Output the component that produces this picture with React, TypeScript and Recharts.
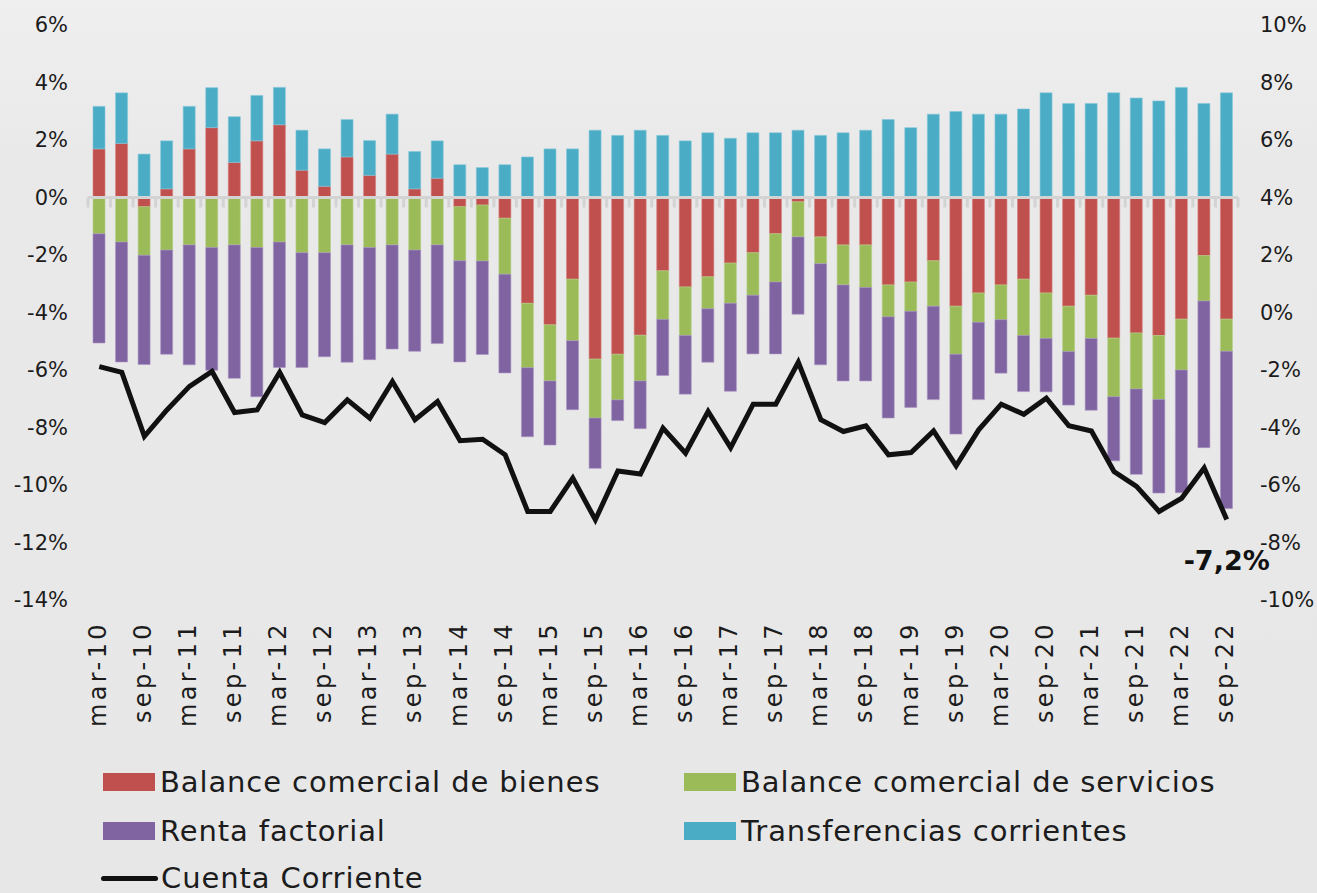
import { ComposedChart, Bar, Line, XAxis, YAxis, ReferenceLine, Legend, LabelList } from 'recharts';

const quarters = [
  'mar-10', 'jun-10', 'sep-10', 'dic-10',
  'mar-11', 'jun-11', 'sep-11', 'dic-11',
  'mar-12', 'jun-12', 'sep-12', 'dic-12',
  'mar-13', 'jun-13', 'sep-13', 'dic-13',
  'mar-14', 'jun-14', 'sep-14', 'dic-14',
  'mar-15', 'jun-15', 'sep-15', 'dic-15',
  'mar-16', 'jun-16', 'sep-16', 'dic-16',
  'mar-17', 'jun-17', 'sep-17', 'dic-17',
  'mar-18', 'jun-18', 'sep-18', 'dic-18',
  'mar-19', 'jun-19', 'sep-19', 'dic-19',
  'mar-20', 'jun-20', 'sep-20', 'dic-20',
  'mar-21', 'jun-21', 'sep-21', 'dic-21',
  'mar-22', 'jun-22', 'sep-22',
];

// % del PIB, eje izquierdo
const bienes = [
  1.69, 1.88, -0.32, 0.30, 1.69, 2.43, 1.22, 1.97, 2.53, 0.95, 0.39, 1.41, 0.77, 1.51, 0.30, 0.67,
  -0.32, -0.26, -0.72, -3.68, -4.43, -2.84, -5.62, -5.45, -4.79, -2.55, -3.11, -2.76, -2.28, -1.92,
  -1.26, -0.15, -1.37, -1.65, -1.65, -3.04, -2.94, -2.20, -3.78, -3.32, -3.04, -2.84, -3.32, -3.78,
  -3.40, -4.89, -4.71, -4.80, -4.23, -2.02, -4.23,
];
const servicios = [
  -1.26, -1.55, -1.69, -1.83, -1.65, -1.74, -1.65, -1.74, -1.55, -1.92, -1.92, -1.65, -1.74, -1.65,
  -1.83, -1.65, -1.88, -1.95, -1.95, -2.24, -1.95, -2.14, -2.05, -1.59, -1.59, -1.69, -1.69, -1.11,
  -1.40, -1.48, -1.68, -1.22, -0.93, -1.39, -1.48, -1.11, -1.02, -1.58, -1.67, -1.02, -1.21, -1.96,
  -1.58, -1.58, -1.50, -2.04, -1.95, -2.23, -1.77, -1.58, -1.12,
];
const renta = [
  -3.80, -4.17, -3.80, -3.62, -4.17, -4.27, -4.64, -5.19, -4.36, -3.99, -3.62, -4.08, -3.90, -3.62,
  -3.52, -3.43, -3.52, -3.25, -3.43, -2.40, -2.23, -2.40, -1.75, -0.72, -1.66, -1.95, -2.04, -1.86,
  -3.06, -2.04, -2.50, -2.69, -3.52, -3.34, -3.25, -3.52, -3.34, -3.25, -2.78, -2.69, -1.86, -1.95,
  -1.86, -1.86, -2.50, -2.23, -2.97, -3.25, -4.27, -5.10, -5.47,
];
const transferencias = [
  1.48, 1.76, 1.51, 1.67, 1.48, 1.39, 1.59, 1.58, 1.30, 1.39, 1.30, 1.30, 1.21, 1.39, 1.30, 1.30,
  1.14, 1.04, 1.14, 1.41, 1.69, 1.69, 2.34, 2.16, 2.34, 2.16, 1.97, 2.25, 2.06, 2.25, 2.25, 2.34,
  2.16, 2.25, 2.34, 2.71, 2.43, 2.90, 2.99, 2.90, 2.90, 3.08, 3.64, 3.27, 3.27, 3.64, 3.46, 3.36,
  3.83, 3.27, 3.64,
];
// eje derecho
const cuenta = [
  -1.88, -2.08, -4.31, -3.39, -2.57, -2.05, -3.48, -3.39, -2.08, -3.56, -3.83, -3.04, -3.68, -2.40,
  -3.73, -3.10, -4.46, -4.41, -4.95, -6.92, -6.92, -5.76, -7.21, -5.51, -5.62, -4.02, -4.89, -3.44,
  -4.70, -3.19, -3.19, -1.73, -3.73, -4.14, -3.94, -4.95, -4.87, -4.12, -5.33, -4.08, -3.19, -3.54,
  -2.98, -3.94, -4.12, -5.53, -6.05, -6.92, -6.46, -5.41, -7.2,
];

const leftTicks = [6, 4, 2, 0, -2, -4, -6, -8, -10, -12, -14];
const rightTicks = [10, 8, 6, 4, 2, 0, -2, -4, -6, -8, -10];

const RED = '#c0504d';
const GREEN = '#9bbb59';
const PURPLE = '#8064a2';
const BLUE = '#4bacc6';
const FONT = '"DejaVu Sans", sans-serif';
const TEXT = '#1c1c1c';

const chartData = quarters.map((q, i) => ({
  q,
  bienes: bienes[i],
  servicios: servicios[i],
  renta: renta[i],
  transferencias: transferencias[i],
  cuenta: cuenta[i],
}));

const legendItems = [
  { name: 'Balance comercial de bienes', color: RED, kind: 'rect' },
  { name: 'Balance comercial de servicios', color: GREEN, kind: 'rect' },
  { name: 'Renta factorial', color: PURPLE, kind: 'rect' },
  { name: 'Transferencias corrientes', color: BLUE, kind: 'rect' },
  { name: 'Cuenta Corriente', color: '#111', kind: 'line' },
];

function QuarterTick({ x, y, payload }: any) {
  return (
    <text
      transform={`translate(${x},${y + 21}) rotate(-90)`}
      textAnchor="end"
      dy="0.27em"
      fill={TEXT}
      style={{ fontFamily: FONT, fontSize: 24, letterSpacing: 3.4 }}
    >
      {payload.value}
    </text>
  );
}

function ZeroAxis(props: any) {
  const { x1, x2, y1 } = props;
  const step = (x2 - x1) / quarters.length;
  return (
    <g>
      <line x1={x1} x2={x2} y1={y1} y2={y1} stroke="#d3d3d3" strokeWidth={3} />
      {quarters.map((q, i) => (
        <line key={q} x1={x1 + i * step} x2={x1 + i * step} y1={y1} y2={y1 + 10} stroke="#d3d3d3" strokeWidth={3} />
      ))}
      <line x1={x2} x2={x2} y1={y1} y2={y1 + 10} stroke="#d3d3d3" strokeWidth={3} />
    </g>
  );
}

function LastLabel(props: any) {
  const { x, y, index, value } = props;
  if (index !== quarters.length - 1) return null;
  return (
    <text x={x} y={y + 50} textAnchor="middle" fill="#111" style={{ fontFamily: FONT, fontSize: 27, fontWeight: 700 }}>
      {String(value).replace('.', ',')}%
    </text>
  );
}

function ChartLegend() {
  const cols = [103, 684];
  const rows = [37, 86, 133];
  return (
    <div style={{ position: 'relative', width: 1317, height: 148, fontFamily: FONT }}>
      {legendItems.map((item, i) => (
        <div
          key={item.name}
          style={{
            position: 'absolute',
            left: item.kind === 'line' ? cols[0] - 2 : cols[i % 2],
            top: rows[Math.floor(i / 2)] - 18,
            height: 36,
            display: 'flex',
            alignItems: 'center',
            gap: item.kind === 'line' ? 3 : 5,
            whiteSpace: 'nowrap',
          }}
        >
          {item.kind === 'line' ? (
            <span style={{ width: 57, height: 5, borderRadius: 3, background: item.color, display: 'inline-block' }} />
          ) : (
            <span style={{ width: 52, height: 18, background: item.color, display: 'inline-block' }} />
          )}
          <span style={{ fontSize: 29, lineHeight: '36px', color: TEXT, letterSpacing: 0.9 }}>{item.name}</span>
        </div>
      ))}
    </div>
  );
}

export default function App() {
  return (
    <div
      style={{
        position: 'absolute',
        left: 0,
        top: 0,
        width: 1317,
        height: 893,
        background: 'linear-gradient(180deg, #efefef 0px, #e9e9e9 160px, #e7e7e7 100%)',
      }}
    >
      <ComposedChart
        width={1317}
        height={893}
        data={chartData}
        stackOffset="sign"
        barSize={12}
        margin={{ top: 25, right: 0, left: 0, bottom: 0 }}
      >
        <XAxis
          dataKey="q"
          interval={1}
          axisLine={false}
          tickLine={false}
          tickSize={0}
          tickMargin={0}
          height={145}
          tick={<QuarterTick />}
        />
        <YAxis
          yAxisId="left"
          domain={[-14, 6]}
          ticks={leftTicks}
          allowDataOverflow
          width={88}
          axisLine={false}
          tickLine={false}
          tickSize={0}
          tickMargin={20}
          tickFormatter={(v) => `${v}%`}
          tick={{ fill: TEXT, fontSize: 21, fontFamily: FONT }}
        />
        <YAxis
          yAxisId="right"
          orientation="right"
          domain={[-10, 10]}
          ticks={rightTicks}
          allowDataOverflow
          width={79}
          axisLine={false}
          tickLine={false}
          tickSize={0}
          tickMargin={22}
          tickFormatter={(v) => `${v}%`}
          tick={{ fill: TEXT, fontSize: 21, fontFamily: FONT }}
        />
        <Legend verticalAlign="bottom" wrapperStyle={{ left: 0, width: 1317 }} content={() => <ChartLegend />} />
        <Bar yAxisId="left" dataKey="bienes" stackId="cc" fill={RED} stroke="#d7807d" strokeWidth={0.6} isAnimationActive={false} name="Balance comercial de bienes" />
        <Bar yAxisId="left" dataKey="servicios" stackId="cc" fill={GREEN} stroke="#b7d08a" strokeWidth={0.6} isAnimationActive={false} name="Balance comercial de servicios" />
        <Bar yAxisId="left" dataKey="renta" stackId="cc" fill={PURPLE} stroke="#a893c2" strokeWidth={0.6} isAnimationActive={false} name="Renta factorial" />
        <Bar yAxisId="left" dataKey="transferencias" stackId="cc" fill={BLUE} stroke="#85c8da" strokeWidth={0.6} isAnimationActive={false} name="Transferencias corrientes" />
        <ReferenceLine yAxisId="left" y={0} shape={<ZeroAxis />} />
        <Line
          yAxisId="right"
          type="linear"
          dataKey="cuenta"
          stroke="#111111"
          strokeWidth={5}
          dot={false}
          activeDot={false}
          isAnimationActive={false}
          name="Cuenta Corriente"
        >
          <LabelList dataKey="cuenta" content={<LastLabel />} />
        </Line>
      </ComposedChart>
    </div>
  );
}
